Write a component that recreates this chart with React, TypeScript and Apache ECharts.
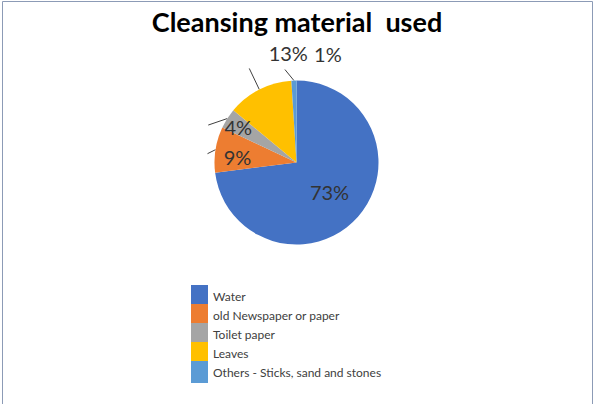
import React, { useEffect, useRef } from "react";
import * as echarts from "echarts";

const categories = [
  "Water",
  "old Newspaper or paper",
  "Toilet paper",
  "Leaves",
  "Others - Sticks, sand and stones",
];
const values = [73, 9, 4, 13, 1];
const colors = ["#4472C4", "#ED7D31", "#A5A5A5", "#FFC000", "#5B9BD5"];
const titleText = "Cleansing material  used";

// label placement relative to the slice's outer edge point (Excel-style manual placement)
const labelOffsets: (number[] | null)[] = [null, [22, 7], [11, 8.5], [29, -36], [34, -27]];
const lineEnds: (number[] | null)[] = [null, [-8, 4], [-19, 6.5], [-10, -21], [-9, -11]];

export default function App() {
  const ref = useRef<HTMLDivElement>(null);
  useEffect(() => {
    if (!ref.current) return;
    const chart = echarts.init(ref.current, null, { renderer: "svg" });
    const data = categories.map((name, i) => ({
      name,
      value: values[i],
      itemStyle: { color: colors[i] },
      label: i === 0 ? { position: "inside" } : { position: "outside" },
      labelLine: { show: i !== 0, length: 12, length2: 0 },
    }));
    chart.setOption({
      animation: false,
      backgroundColor: "#ffffff",
      title: {
        text: titleText,
        left: "center",
        top: 3,
        textStyle: {
          fontFamily: "Lato",
          fontWeight: "bold",
          fontSize: 27,
          color: "#000000",
        },
      },
      graphic: [
        {
          type: "rect",
          shape: { x: 2.5, y: 1.5, width: 590, height: 420 },
          style: { fill: "none", stroke: "#8c9bb6", lineWidth: 1 },
          silent: true,
        },
      ],
      legend: {
        orient: "vertical",
        left: 191,
        top: 285,
        padding: 0,
        itemWidth: 17,
        itemHeight: 22,
        itemGap: -3,
        icon: "rect",
        itemStyle: { borderWidth: 0 },
        data: categories,
        textStyle: { fontFamily: "Lato", fontSize: 12, color: "#404040" },
      },
      series: [
        {
          type: "pie",
          center: [296.5, 162.5],
          radius: 82,
          startAngle: 90,
          clockwise: true,
          avoidLabelOverlap: false,
          data,
          label: {
            show: true,
            formatter: (p: any) => p.value + "%",
            fontFamily: "Lato",
            fontSize: 20,
            color: "#333333",
          },
          labelLine: {
            lineStyle: { color: "#404040", width: 1 },
          },
          labelLayout: (params: any) => {
            const i = params.dataIndex;
            const off = labelOffsets[i];
            const pts = params.labelLinePoints;
            if (!off || !pts) return {};
            const edge = pts[0];
            const end = lineEnds[i] || [0, 0];
            return {
              x: edge[0] + off[0],
              y: edge[1] + off[1],
              align: "center",
              verticalAlign: "middle",
              labelLinePoints: [
                [edge[0], edge[1]],
                [edge[0] + end[0], edge[1] + end[1]],
                [edge[0] + end[0], edge[1] + end[1]],
              ],
            };
          },
        },
      ],
    });
    return () => chart.dispose();
  }, []);
  return (
    <div
      ref={ref}
      style={{ position: "fixed", left: 0, top: 0, width: 594, height: 404 }}
    />
  );
}
